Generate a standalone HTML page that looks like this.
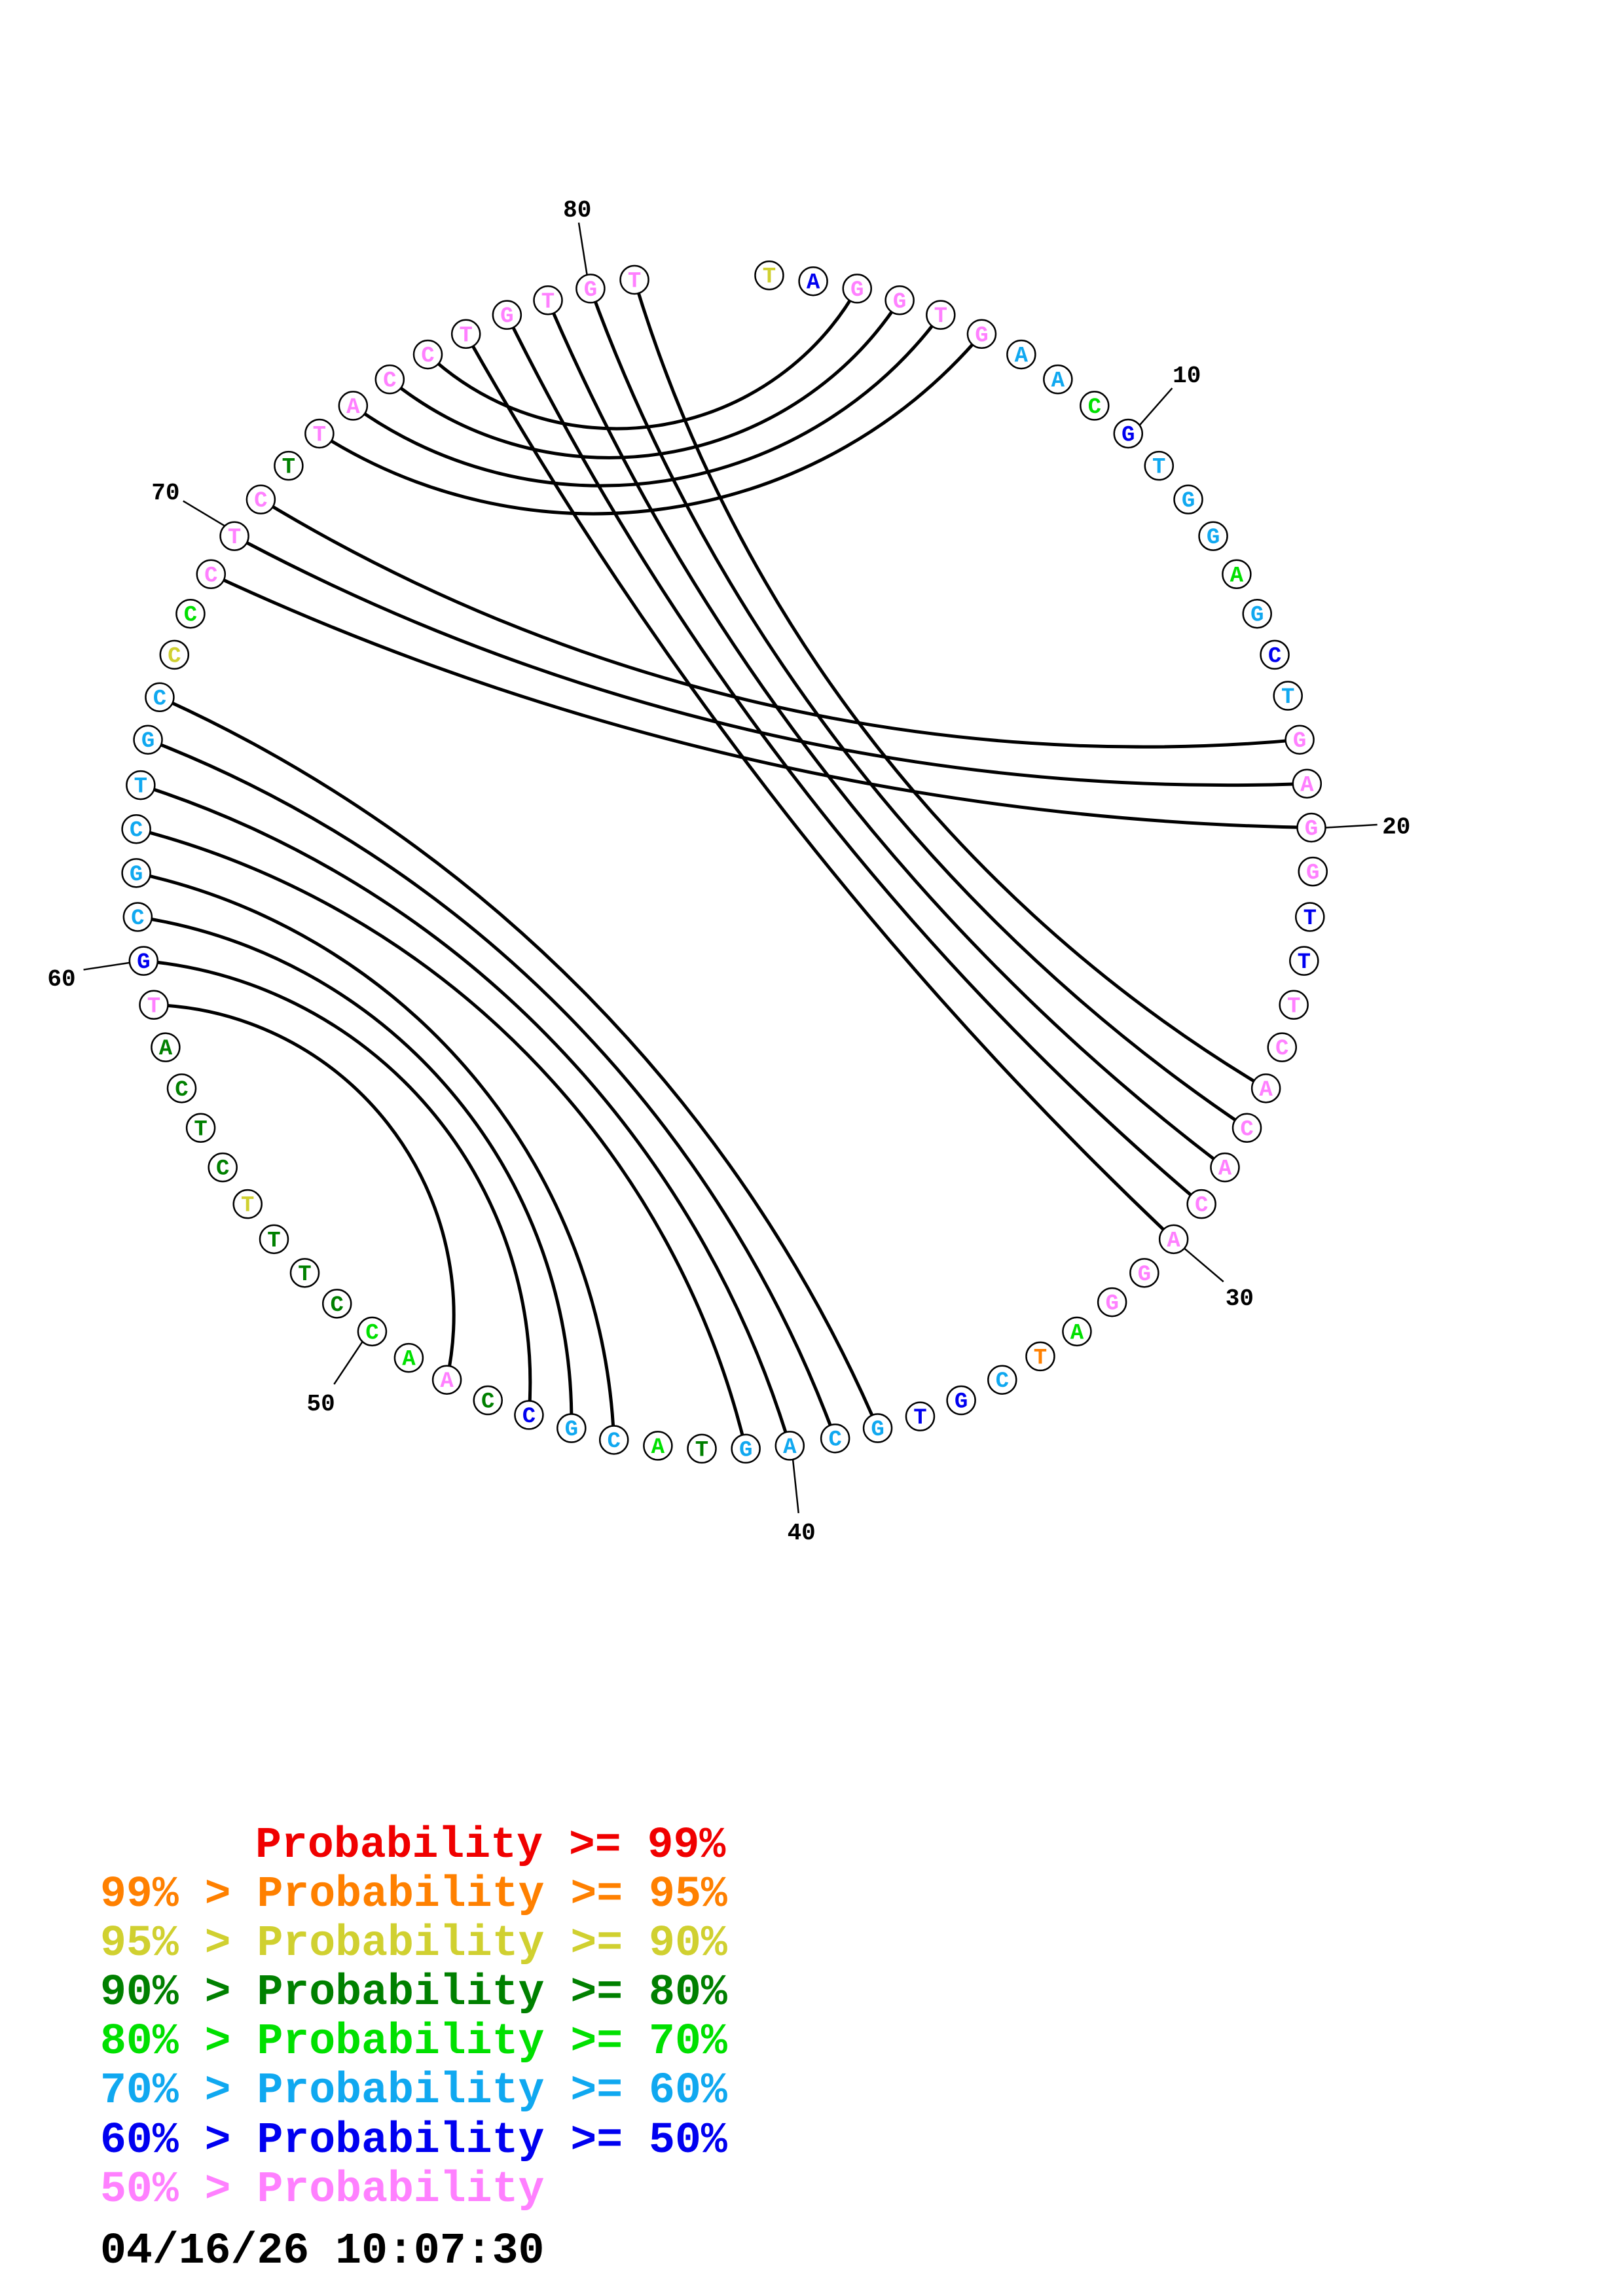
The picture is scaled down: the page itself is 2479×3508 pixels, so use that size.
<!DOCTYPE html>
<html><head><meta charset="utf-8"><style>
html,body{margin:0;padding:0;background:#fff;}
svg{display:block;}
text{font-family:"Liberation Mono",monospace;font-weight:bold;}
</style></head><body>
<svg id="s" width="2479" height="3508" viewBox="0 0 2479 3508" xmlns="http://www.w3.org/2000/svg">
<rect width="2479" height="3508" fill="#fff"/>
<g id="arcs" fill="none" stroke="#000" stroke-width="5"></g>
<g id="ticks" stroke="#000" stroke-width="2.5"></g>
<g id="nodes"></g>
<g font-size="66.5">
<text x="390" y="2837" fill="#f00000" xml:space="preserve">Probability &gt;= 99%</text>
<text x="153" y="2912" fill="#ff8000" xml:space="preserve">99% &gt; Probability &gt;= 95%</text>
<text x="153" y="2987" fill="#d0d030" xml:space="preserve">95% &gt; Probability &gt;= 90%</text>
<text x="153" y="3062" fill="#008000" xml:space="preserve">90% &gt; Probability &gt;= 80%</text>
<text x="153" y="3137" fill="#00e000" xml:space="preserve">80% &gt; Probability &gt;= 70%</text>
<text x="153" y="3212" fill="#10a8f0" xml:space="preserve">70% &gt; Probability &gt;= 60%</text>
<text x="153" y="3288" fill="#0000f0" xml:space="preserve">60% &gt; Probability &gt;= 50%</text>
<text x="153" y="3363" fill="#ff80ff" xml:space="preserve">50% &gt; Probability</text>
<text x="153" y="3457" fill="#000" xml:space="preserve">04/16/26 10:07:30</text>
</g>
</svg>
<script>
var S=2.238;
var C={y:"#d0d030",b:"#0000f0",p:"#ff80ff",l:"#10a8f0",g:"#00e000",d:"#008000",o:"#ff8000"};
var N=[
["T",525,188,"y"],["A",555,192,"b"],["G",585,197,"p"],["G",614,205,"p"],["T",642,215,"p"],["G",670,228,"p"],["A",697,242,"l"],["A",722,259,"l"],["C",747,277,"g"],["G",770,296,"b"],
["T",791,318,"l"],["G",811,341,"l"],["G",828,366,"l"],["A",844,392,"g"],["G",858,419,"l"],["C",870,447,"b"],["T",879,475,"l"],["G",887,505,"p"],["A",892,535,"p"],["G",895,565,"p"],
["G",896,595,"p"],["T",894,626,"b"],["T",890,656,"b"],["T",883,686,"p"],["C",875,715,"p"],["A",864,743,"p"],["C",851,770,"p"],["A",836,797,"p"],["C",820,822,"p"],["A",801,846,"p"],
["G",781,869,"p"],["G",759,889,"p"],["A",735,909,"g"],["T",710,926,"o"],["C",684,942,"l"],["G",656,956,"b"],["T",628,967,"b"],["G",599,975,"l"],["C",570,982,"l"],["A",539,987,"l"],
["G",509,989,"l"],["T",479,989,"d"],["A",449,987,"g"],["C",419,983,"l"],["G",390,975,"l"],["C",361,966,"b"],["C",333,956,"d"],["A",305,942,"p"],["A",279,927,"g"],["C",254,909,"g"],
["C",230,890,"d"],["T",208,869,"d"],["T",187,846,"d"],["T",169,822,"y"],["C",152,797,"d"],["T",137,770,"d"],["C",124,743,"d"],["A",113,715,"d"],["T",105,686,"p"],["G",98,656,"b"],
["C",94,626,"l"],["G",93,596,"l"],["C",93,566,"l"],["T",96,536,"l"],["G",101,505,"l"],["C",109,476,"l"],["C",119,447,"y"],["C",130,419,"g"],["C",144,392,"p"],["T",160,366,"p"],
["C",178,341,"p"],["T",197,318,"d"],["T",218,296,"p"],["A",241,277,"p"],["C",266,259,"p"],["C",292,242,"p"],["T",318,228,"p"],["G",346,215,"p"],["T",374,205,"p"],["G",403,197,"p"],
["T",433,191,"p"]];
var P=[[3,76],[4,75],[5,74],[6,73],[77,30],[78,29],[79,28],[80,27],[81,26],[71,18],[70,19],[69,20],[66,38],[65,39],[64,40],[63,41],[62,44],[61,45],[60,46],[59,48]];
var cx=497*S,cy=592*S,R=400*S,F=0.72;
var ns="http://www.w3.org/2000/svg";
function el(t,a,p){var e=document.createElementNS(ns,t);for(var k in a)e.setAttribute(k,a[k]);p.appendChild(e);return e;}
function pt(i){return [N[i-1][1]*S,N[i-1][2]*S];}
var arcs=document.getElementById("arcs");
P.forEach(function(pr){
 var a=pt(pr[0]),b=pt(pr[1]);
 var a1=Math.atan2(a[1]-cy,a[0]-cx),a2=Math.atan2(b[1]-cy,b[0]-cx);
 var d=a2-a1;while(d>Math.PI)d-=2*Math.PI;while(d<-Math.PI)d+=2*Math.PI;
 var th=Math.abs(d),mid=a1+d/2;
 var s0=R*Math.cos(th/2)-(R/Math.cos(th/2)-R*Math.tan(th/2));
 var s=F*s0;
 var dx=b[0]-a[0],dy=b[1]-a[1],h=Math.sqrt(dx*dx+dy*dy)/2;
 var rr=(h*h+s*s)/(2*s);
 var mx=(a[0]+b[0])/2,my=(a[1]+b[1])/2;
 var ox=mx+(rr-s)*Math.cos(mid),oy=my+(rr-s)*Math.sin(mid);
 var sw=((ox-a[0])*(-dy)+(oy-a[1])*dx)>0?1:0;
 el("path",{d:"M"+a[0]+" "+a[1]+" A"+rr+" "+rr+" 0 0 "+sw+" "+b[0]+" "+b[1]},arcs);
});
var ticks=document.getElementById("ticks"),sv=document.getElementById("s");
var T=[[10,778,290,800,265,810,261],[20,905,565,940,563,953,569],[30,808,852,835,875,846,891],[40,541,995,545,1033,547,1051],[50,248,915,228,945,219,963],[60,90,657,57,662,42,673],[70,155,360,125,342,113,341],[80,401,190,395,152,394,148]];
T.forEach(function(t){
 el("line",{x1:t[1]*S,y1:t[2]*S,x2:t[3]*S,y2:t[4]*S},ticks);
 var tx=el("text",{x:t[5]*S,y:t[6]*S,"font-size":"36","text-anchor":"middle",fill:"#000"},sv);tx.textContent=t[0];
});
var nodes=document.getElementById("nodes");
N.forEach(function(n){
 var x=n[1]*S,y=n[2]*S;
 el("circle",{cx:x,cy:y,r:21.5,fill:"#fff",stroke:"#000","stroke-width":"2.5"},nodes);
 var tx=el("text",{x:x,y:y+11,"font-size":"34","text-anchor":"middle",fill:C[n[3]]},nodes);tx.textContent=n[0];
});
</script>
</body></html>
